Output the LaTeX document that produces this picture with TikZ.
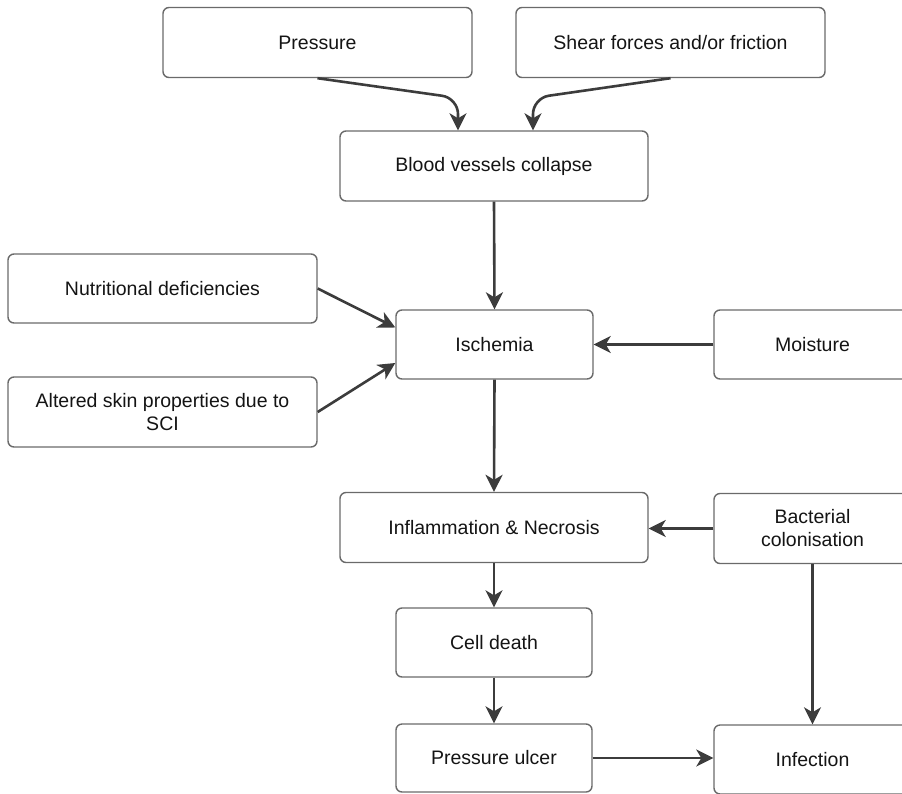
\documentclass[tikz,border=0pt]{standalone}
\usepackage{fontspec}
\setmainfont{Liberation Sans}
\usetikzlibrary{arrows.meta,calc}
\definecolor{boxline}{HTML}{6A6A6A}
\definecolor{arrowc}{HTML}{3C3C3C}
\definecolor{txt}{HTML}{141414}
\begin{document}
\begin{tikzpicture}[x=1pt,y=-1pt,
  box/.style={draw=boxline,line width=1.4pt,rounded corners=6pt,fill=white,
    text=txt,align=center,inner sep=2pt,
    font=\fontsize{19.5}{23}\selectfont},
  wide/.style={box,minimum width=309pt,minimum height=70pt},
  narrow/.style={box,minimum width=197pt,minimum height=69pt},
  conn/.style={draw=arrowc,line width=2.6pt,
    -{Stealth[length=17pt,width=17pt,inset=5pt]}}]
\useasboundingbox (0,0) rectangle (902,793);
\clip (0,0) rectangle (902,793);
\fill[white] (0,0) rectangle (902,793);
% nodes
\node[wide] (P) at (317.5,42.5) {Pressure};
\node[wide] (S) at (670.5,42.5) {Shear forces and/or friction};
\node[wide,minimum width=308pt] (B) at (494,166) {Blood vessels collapse};
\node[wide,minimum height=69pt] (N) at (162.5,288.5) {Nutritional deficiencies};
\node[narrow] (I) at (494.5,344.5) {Ischemia};
\node[narrow] (M) at (812.5,344.5) {Moisture};
\node[wide] (A) at (162.5,412) {Altered skin properties due to\\SCI};
\node[wide,minimum width=308pt] (F) at (494,527.5) {Inflammation \& Necrosis};
\node[narrow,minimum height=70pt] (C) at (812.5,528.5) {Bacterial\\colonisation};
\node[narrow,minimum width=196pt] (D) at (494,642.5) {Cell death};
\node[narrow,minimum width=196pt,minimum height=68pt] (U) at (494,758) {Pressure ulcer};
\node[narrow] (X) at (812.5,759.5) {Infection};
% connectors
\coordinate (pk) at (458,98);
\coordinate (sk) at (533,98);
\draw[conn,rounded corners=16pt] (P.south) -- (pk) -- (pk |- B.north);
\draw[conn,rounded corners=16pt] (S.south) -- (sk) -- (sk |- B.north);
\draw[conn] (B.south) -- (I.north);
\draw[conn] (N.east) -- ($(I.west)+(0,-17)$);
\draw[conn] (A.east) -- ($(I.west)+(0,18.5)$);
\draw[conn] (M.west) -- (I.east);
\draw[conn] (I.south) -- (F.north);
\draw[conn] (C.west) -- (F.east |- C.west);
\draw[conn] (F.south) -- (D.north);
\draw[conn] (D.south) -- (U.north);
\draw[conn] (C.south) -- (X.north);
\draw[conn] (U.east) -- (X.west |- U.east);
\end{tikzpicture}
\end{document}
